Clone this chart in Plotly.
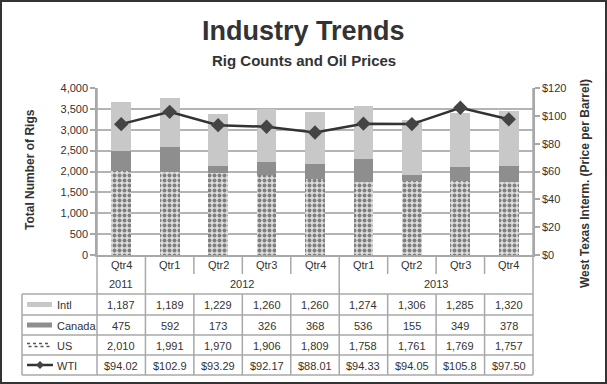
import plotly.graph_objects as go

quarters = ["Qtr4", "Qtr1", "Qtr2", "Qtr3", "Qtr4", "Qtr1", "Qtr2", "Qtr3", "Qtr4"]
years = ["2011", "2012", "2012", "2012", "2012", "2013", "2013", "2013", "2013"]
intl = [1187, 1189, 1229, 1260, 1260, 1274, 1306, 1285, 1320]
canada = [475, 592, 173, 326, 368, 536, 155, 349, 378]
us = [2010, 1991, 1970, 1906, 1809, 1758, 1761, 1769, 1757]
wti = [94.02, 102.9, 93.29, 92.17, 88.01, 94.33, 94.05, 105.8, 97.50]

W, H = 607, 384
L, R, T, B = 97, 74, 88, 129
PW, PH = W - L - R, H - T - B
TXT = "#333333"
GRID = "#b4b4b4"
FONT = "Liberation Sans, Arial, sans-serif"


def px(p):
    return (p - L) / PW


def py(p):
    return (T + PH - p) / PH


idx = list(range(len(quarters)))

fig = go.Figure()
fig.add_trace(go.Bar(
    x=idx, y=us, name="US", width=0.41,
    marker=dict(color="#dcdcdc", line=dict(width=0),
                pattern=dict(shape=".", fgcolor="#222222", bgcolor="#dedede", size=5, solidity=0.5)),
))
fig.add_trace(go.Bar(
    x=idx, y=canada, name="Canada", width=0.41,
    marker=dict(color="#8e8e8e", line=dict(width=0)),
))
fig.add_trace(go.Bar(
    x=idx, y=intl, name="Intl", width=0.41,
    marker=dict(color="#c8c8c8", line=dict(width=0)),
))
fig.add_trace(go.Scatter(
    x=idx, y=wti, name="WTI", yaxis="y2", mode="lines+markers",
    line=dict(color="#333333", width=2.5),
    marker=dict(symbol="diamond", size=11, color="#444444"),
))

shapes = []
ann = []
LC = "#a8a8a8"

shapes.append(dict(type="rect", xref="paper", yref="paper",
                   x0=px(1), x1=px(W - 1), y0=py(H - 1), y1=py(1),
                   line=dict(color="#333333", width=2)))

y_axis0 = 255
y_qtr_end = 274
y_hdr = 294
rows_y = [294, 315, 335, 355, 375]
x_left_tab = 22
x_right = L + PW

for yy in rows_y:
    shapes.append(dict(type="line", xref="paper", yref="paper",
                       x0=px(x_left_tab), x1=px(x_right), y0=py(yy), y1=py(yy),
                       line=dict(color=LC, width=1.5)))
shapes.append(dict(type="line", xref="paper", yref="paper",
                   x0=px(x_left_tab), x1=px(x_left_tab), y0=py(rows_y[0]), y1=py(rows_y[-1]),
                   line=dict(color=LC, width=1.5)))
for xx in (L, x_right):
    shapes.append(dict(type="line", xref="paper", yref="paper",
                       x0=px(xx), x1=px(xx), y0=py(rows_y[-1]), y1=1,
                       line=dict(color=LC, width=1.5)))
for k in range(1, len(quarters)):
    boundary = years[k] != years[k - 1]
    if boundary:
        shapes.append(dict(type="line", xref="x", yref="paper",
                           x0=k - 0.5, x1=k - 0.5, y0=py(rows_y[-1]), y1=py(y_axis0),
                           line=dict(color=LC, width=1.5)))
    else:
        shapes.append(dict(type="line", xref="x", yref="paper",
                           x0=k - 0.5, x1=k - 0.5, y0=py(y_qtr_end), y1=py(y_axis0),
                           line=dict(color=LC, width=1.5)))
        shapes.append(dict(type="line", xref="x", yref="paper",
                           x0=k - 0.5, x1=k - 0.5, y0=py(rows_y[-1]), y1=py(y_hdr),
                           line=dict(color=LC, width=1.5)))

cell_font = dict(family=FONT, size=11, color=TXT)

for i, q in enumerate(quarters):
    ann.append(dict(x=i, y=py(265), xref="x", yref="paper", text=q, showarrow=False,
                    font=cell_font, xanchor="center", yanchor="middle"))
groups = []
for i, yv in enumerate(years):
    if groups and groups[-1][0] == yv:
        groups[-1][2] = i
    else:
        groups.append([yv, i, i])
for yv, a, b in groups:
    ann.append(dict(x=(a + b) / 2, y=py(284), xref="x", yref="paper", text=yv, showarrow=False,
                    font=cell_font, xanchor="center", yanchor="middle"))


def fmt_int(v):
    return f"{v:,}"


def fmt_wti(v):
    return f"${v:.1f}" if v >= 100 else f"${v:.2f}"


table_rows = [
    ("Intl", [fmt_int(v) for v in intl]),
    ("Canada", [fmt_int(v) for v in canada]),
    ("US", [fmt_int(v) for v in us]),
    ("WTI", [fmt_wti(v) for v in wti]),
]
for r, (name, vals) in enumerate(table_rows):
    yc = (rows_y[r] + rows_y[r + 1]) / 2 + 0.5
    for i, t in enumerate(vals):
        ann.append(dict(x=i, y=py(yc), xref="x", yref="paper", text=t, showarrow=False,
                        font=cell_font, xanchor="center", yanchor="middle"))
    ann.append(dict(x=px(55), y=py(yc), xref="paper", yref="paper", text=name, showarrow=False,
                    font=cell_font, xanchor="left", yanchor="middle"))


def yc_row(r):
    return (rows_y[r] + rows_y[r + 1]) / 2


shapes.append(dict(type="rect", xref="paper", yref="paper", x0=px(27), x1=px(52),
                   y0=py(yc_row(0) + 2.5), y1=py(yc_row(0) - 2.5),
                   fillcolor="#c8c8c8", line=dict(width=0)))
shapes.append(dict(type="rect", xref="paper", yref="paper", x0=px(27), x1=px(52),
                   y0=py(yc_row(1) + 2.5), y1=py(yc_row(1) - 2.5),
                   fillcolor="#8e8e8e", line=dict(width=0)))
for dy, off in ((-1.5, 0), (1.5, 1.5)):
    shapes.append(dict(type="line", xref="paper", yref="paper", x0=px(27 + off), x1=px(50),
                       y0=py(yc_row(2) + dy), y1=py(yc_row(2) + dy),
                       line=dict(color="#555555", width=1.5, dash="dot")))
yw = yc_row(3)
shapes.append(dict(type="line", xref="paper", yref="paper", x0=px(27), x1=px(53),
                   y0=py(yw), y1=py(yw), line=dict(color="#333333", width=2.5)))
cx = 40
shapes.append(dict(type="path", xref="paper", yref="paper",
                   path=f"M {px(cx - 4)} {py(yw)} L {px(cx)} {py(yw - 4)} L {px(cx + 4)} {py(yw)} L {px(cx)} {py(yw + 4)} Z",
                   fillcolor="#444444", line=dict(width=0)))

ann.append(dict(x=0.5, xref="paper", y=py(31), yref="paper", text="<b>Industry Trends</b>",
                showarrow=False, font=dict(family=FONT, size=27, color=TXT),
                xanchor="center", yanchor="middle", xshift=(W / 2 - (L + PW / 2))))
ann.append(dict(x=0.5, xref="paper", y=py(60), yref="paper", text="<b>Rig Counts and Oil Prices</b>",
                showarrow=False, font=dict(family=FONT, size=15, color=TXT),
                xanchor="center", yanchor="middle", xshift=(W / 2 - (L + PW / 2))))
ann.append(dict(x=px(30), xref="paper", y=py(170), yref="paper", text="<b>Total Number of Rigs</b>",
                showarrow=False, textangle=-90, font=dict(family=FONT, size=12, color=TXT),
                xanchor="center", yanchor="middle"))
ann.append(dict(x=px(585), xref="paper", y=py(184), yref="paper",
                text="<b>West Texas Interm. (Price per Barrel)</b>",
                showarrow=False, textangle=-90, font=dict(family=FONT, size=12, color=TXT),
                xanchor="center", yanchor="middle"))

fig.update_layout(
    width=W, height=H, autosize=False,
    margin=dict(l=L, r=R, t=T, b=B, pad=0),
    paper_bgcolor="white", plot_bgcolor="white",
    barmode="stack", bargap=0.59, showlegend=False,
    font=dict(family=FONT, size=11, color=TXT),
    xaxis=dict(range=[-0.5, len(quarters) - 0.5], showticklabels=False, showgrid=False,
               zeroline=False, showline=True, linecolor=LC, linewidth=1.5, ticks="", fixedrange=True),
    yaxis=dict(range=[0, 4000], dtick=500, tickformat=",", showgrid=True, gridcolor=GRID, gridwidth=1.5,
               zeroline=False, showline=True, linecolor=LC, linewidth=1.5, ticks="outside",
               ticklen=5, tickcolor=LC, tickwidth=1.5, tickfont=dict(size=11, color=TXT)),
    yaxis2=dict(range=[0, 120], dtick=20, tickprefix="$", overlaying="y", side="right",
                showgrid=False, zeroline=False, showline=True, linecolor=LC, linewidth=1.5,
                ticks="outside", ticklen=5, tickcolor=LC, tickwidth=1.5,
                tickfont=dict(size=11, color=TXT)),
    shapes=shapes, annotations=ann,
)

fig.write_html("out.html", config={"displayModeBar": False},
               post_script="document.body.style.margin='0';document.body.style.overflow='hidden';")
